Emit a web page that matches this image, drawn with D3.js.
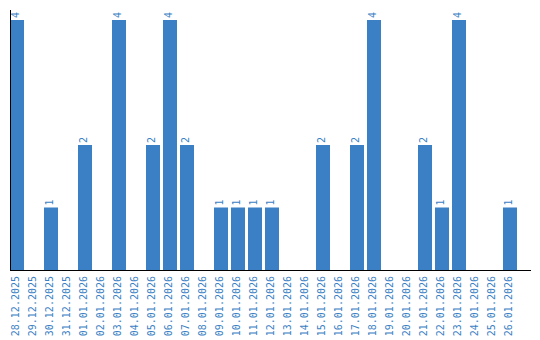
<!DOCTYPE html>
<html>
<head>
<meta charset="utf-8">
<script src="https://cdn.jsdelivr.net/npm/d3@7"></script>
<style>
  body { margin: 0; background: #fff; }
  text { font-family: "DejaVu Sans Mono", "Liberation Mono", monospace; }
</style>
</head>
<body>
<svg id="chart" width="540" height="340"></svg>
<script>
// days and counts
var days = ["28.12.2025", "29.12.2025", "30.12.2025", "31.12.2025", "01.01.2026",
            "02.01.2026", "03.01.2026", "04.01.2026", "05.01.2026", "06.01.2026",
            "07.01.2026", "08.01.2026", "09.01.2026", "10.01.2026", "11.01.2026",
            "12.01.2026", "13.01.2026", "14.01.2026", "15.01.2026", "16.01.2026",
            "17.01.2026", "18.01.2026", "19.01.2026", "20.01.2026", "21.01.2026",
            "22.01.2026", "23.01.2026", "24.01.2026", "25.01.2026", "26.01.2026"];
var counts = [4, 0, 1, 0, 2, 0, 4, 0, 2, 4,
              2, 0, 1, 1, 1, 1, 0, 0, 2, 0,
              2, 4, 0, 0, 2, 1, 4, 0, 0, 1];

var blue = "#3b7fc4";
var svg = d3.select("#chart");

var x = d3.scaleBand()
    .domain(days)
    .range([10, 520])
    .paddingInner(0.176)
    .paddingOuter(0.088)
    .align(0);

var y = d3.scaleLinear()
    .domain([0, d3.max(counts) * 1.04])
    .range([270, 10]);

var data = days.map(function(d, i) { return { day: d, value: counts[i] }; });

// bars
svg.selectAll("rect.bar")
    .data(data.filter(function(d) { return d.value > 0; }))
  .enter().append("rect")
    .attr("class", "bar")
    .attr("fill", blue)
    .attr("x", function(d) { return x(d.day); })
    .attr("y", function(d) { return y(d.value); })
    .attr("width", x.bandwidth())
    .attr("height", function(d) { return y(0) - y(d.value); });

// value labels
svg.selectAll("text.val")
    .data(data.filter(function(d) { return d.value > 0; }))
  .enter().append("text")
    .attr("class", "val")
    .attr("fill", blue)
    .attr("font-size", "10px")
    .attr("dy", "0.2em")
    .attr("transform", function(d) {
        return "translate(" + (x(d.day) + x.bandwidth() / 2) + "," + (y(d.value) - 2) + ") rotate(-90)";
    })
    .text(function(d) { return d.value; });

// x labels
svg.selectAll("text.day")
    .data(days)
  .enter().append("text")
    .attr("class", "day")
    .attr("fill", blue)
    .attr("font-size", "10px")
    .attr("text-anchor", "end")
    .attr("dy", "0.2em")
    .attr("transform", function(d) {
        return "translate(" + (x(d) + x.bandwidth() / 2) + ",276) rotate(-90)";
    })
    .text(function(d) { return d; });

// axes lines
svg.append("line")
    .attr("x1", 10.5).attr("x2", 10.5)
    .attr("y1", y.range()[1]).attr("y2", y(0))
    .attr("stroke", "#000");
svg.append("line")
    .attr("x1", 10).attr("x2", 531)
    .attr("y1", y(0) + 0.5).attr("y2", y(0) + 0.5)
    .attr("stroke", "#000");
</script>
</body>
</html>
